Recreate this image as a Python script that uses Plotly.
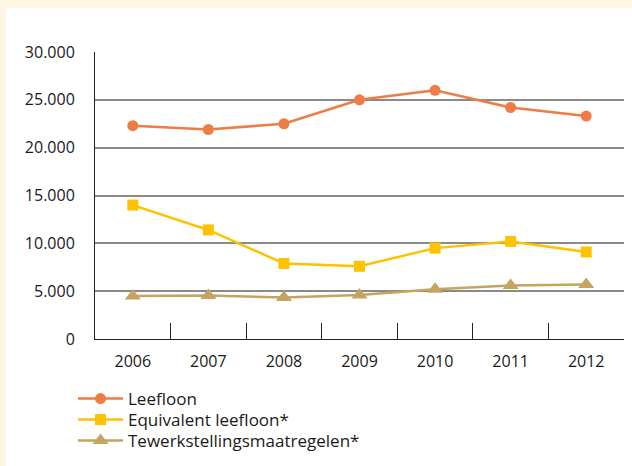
import plotly.graph_objects as go

years = ["2006", "2007", "2008", "2009", "2010", "2011", "2012"]
leefloon = [22300, 21900, 22500, 25000, 26000, 24200, 23300]
equivalent = [14000, 11400, 7900, 7600, 9500, 10200, 9100]
tewerk = [4500, 4550, 4350, 4600, 5200, 5600, 5700]
y_ticks = [0, 5000, 10000, 15000, 20000, 25000, 30000]
y_tick_labels = ["0", "5.000", "10.000", "15.000", "20.000", "25.000", "30.000"]

FONT = "Open Sans"
W, H = 632, 466
L, R, T, B = 95, 8, 52, 126
pw = W - L - R
ph = H - T - B

def px_x(p):
    return (p - L) / pw

def px_y(p):
    return (H - B - p) / ph

fig = go.Figure()
fig.add_trace(go.Scatter(x=years, y=leefloon, name="Leefloon", mode="lines+markers",
                         line=dict(color="#EE7C45", width=2.5), legend="legend",
                         marker=dict(symbol="circle", size=11, color="#EE7C45")))
fig.add_trace(go.Scatter(x=years, y=equivalent, name="Equivalent leefloon*", mode="lines+markers",
                         line=dict(color="#FDC200", width=2.5), legend="legend2",
                         marker=dict(symbol="square", size=11, color="#FDC200")))
fig.add_trace(go.Scatter(x=years, y=tewerk, name="Tewerkstellingsmaatregelen*", mode="lines+markers",
                         line=dict(color="#C4A45E", width=2.5), legend="legend3",
                         marker=dict(symbol="triangle-up", size=14, color="#C4A45E")))

fig.add_shape(type="rect", xref="paper", yref="paper", layer="below",
              x0=px_x(6), x1=px_x(W + 5), y0=px_y(H + 5), y1=px_y(8),
              fillcolor="white", line=dict(width=0))

def leg(center):
    return dict(x=px_x(73), y=px_y(center), xanchor="left", yanchor="middle",
                bgcolor="rgba(0,0,0,0)", font=dict(size=17), itemwidth=45)

fig.update_layout(
    width=W, height=H,
    margin=dict(l=L, r=R, t=T, b=B),
    paper_bgcolor="#FEF5E2",
    plot_bgcolor="white",
    font=dict(family=FONT, size=16, color="#1a1a1a"),
    showlegend=True,
    legend=leg(399), legend2=leg(420), legend3=leg(441),
    hovermode=False,
    xaxis=dict(type="category", range=[-0.5, 6.5], showgrid=False,
               showline=True, linecolor="#222", linewidth=1,
               ticks="inside", tickson="boundaries", ticklen=16, tickcolor="#222", tickwidth=1,
               tickfont=dict(size=16), ticklabelstandoff=8, zeroline=False, fixedrange=True),
    yaxis=dict(range=[0, 30000], tickvals=y_ticks, ticktext=y_tick_labels,
               showgrid=True, gridcolor="#8a8a8a", gridwidth=1.5,
               showline=True, linecolor="#222", linewidth=1,
               ticks="", ticklabelstandoff=16, zeroline=False,
               tickfont=dict(size=16), fixedrange=True),
)

fig.write_html("out.html", config={"displayModeBar": False},
               post_script="document.body.style.margin='0';document.body.style.overflow='hidden';")
